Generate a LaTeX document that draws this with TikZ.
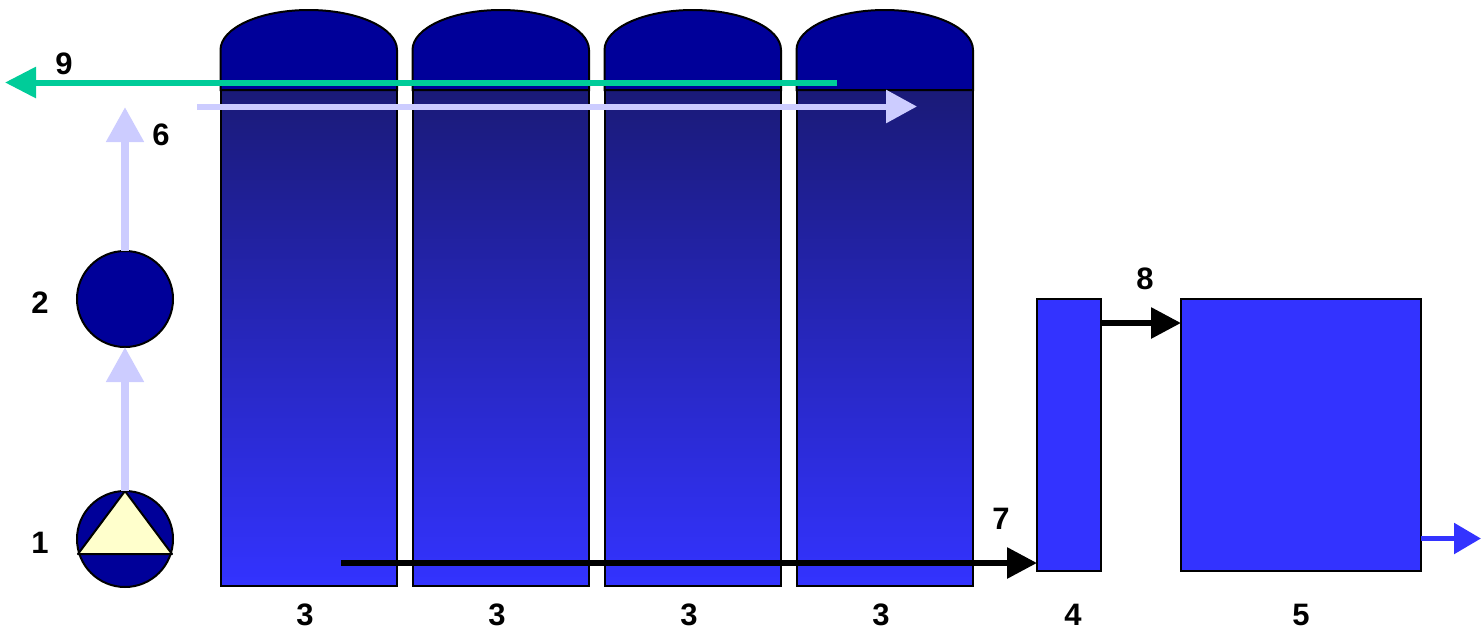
\documentclass[tikz,border=0pt]{standalone}
\usepackage{fontspec}
\setmainfont{Liberation Sans}
\usetikzlibrary{arrows.meta}
\definecolor{navy}{HTML}{000099}
\definecolor{tanktop}{HTML}{1A1A78}
\definecolor{vivid}{HTML}{3333FF}
\definecolor{pale}{HTML}{CCCCFF}
\definecolor{teal}{HTML}{00CC99}
\definecolor{cream}{HTML}{FFFFCC}
\tikzset{
  outline/.style={draw=black,line width=2pt},
  tankbody/.style={rectangle,inner sep=0pt,outer sep=0pt,minimum width=176.5pt,minimum height=496pt,anchor=north west,
    top color=tanktop,bottom color=vivid,middle color=tanktop!50!vivid},
  round1/.style={outline,circle,fill=navy,inner sep=0pt,outer sep=0pt,minimum size=96pt},
  boxy/.style={outline,rectangle,fill=vivid,inner sep=0pt,outer sep=0pt,anchor=north west},
  lab/.style={inner sep=0pt,font=\fontsize{31}{36}\selectfont\bfseries},
  flow/.style={line width=6pt,-{Triangle[length=31pt,width=31pt]}},
  paleflow/.style={line width=8pt,draw=pale,-{Triangle[length=35pt,width=36pt,fill=pale]}},
}
\newcommand{\tank}[2]{%
  \node[tankbody] (#2) at (#1,90) {};
  \draw[outline] (#2.north west) rectangle (#2.south east);
  \path[outline,fill=navy] (#2.north west) -- ++(0,-40) arc[start angle=180,end angle=0,x radius=88.25,y radius=-40] -- (#2.north east) -- cycle;
}
\begin{document}
\begin{tikzpicture}[x=1pt,y=-1pt]
\useasboundingbox (0,0) rectangle (1481,630);
\tank{220.5}{tankA}
\tank{412.5}{tankB}
\tank{604.5}{tankC}
\tank{796.5}{tankD}
\node[round1] (pump) at (125,539) {};
\node[round1] (filter) at (125,299) {};
\draw[outline,fill=cream,line join=round] (125,491) coordinate (apex) -- (172,554) -- (78,554) -- cycle;
\node[boxy,minimum width=64pt,minimum height=272pt] (boxF) at (1037,299) {};
\node[boxy,minimum width=240pt,minimum height=272pt] (boxG) at (1181,299) {};
\coordinate (startSeven) at (341,563);
\coordinate (startEight) at (1101,323);
\coordinate (startOut) at (1421,538.5);
\coordinate (endOut) at (1481,538.5);
\coordinate (endSix) at (125,107);
\coordinate (startH) at (197,106.5);
\coordinate (endH) at (917,106.5);
\coordinate (startN) at (837,82.5);
\coordinate (endN) at (5,82.5);
\draw[paleflow] (apex) -- (filter.south);
\draw[paleflow] (filter.north) -- (endSix);
\draw[flow,draw=pale,-{Triangle[length=31pt,width=32pt,fill=pale]}] (startH) -- (endH);
\draw[flow,draw=teal,-{Triangle[length=31pt,width=30pt,fill=teal]}] (startN) -- (endN);
\draw[flow,draw=black,-{Triangle[length=30pt,width=30pt,fill=black]}] (startSeven) -- (startSeven -| boxF.west);
\draw[flow,draw=black,-{Triangle[length=30pt,width=30pt,fill=black]}] (startEight) -- (startEight -| boxG.west);
\draw[flow,line width=5.5pt,draw=vivid,-{Triangle[length=27pt,width=30pt,fill=vivid]}] (startOut) -- (endOut);
\node[lab] (l9) at (64,63.5) {9};
\node[lab] (l6) at (161,134.5) {6};
\node[lab] (l2) at (40,303) {2};
\node[lab] (l1) at (40,543) {1};
\node[lab] (l3a) at (305,614.5) {3};
\node[lab] (l3b) at (497,614.5) {3};
\node[lab] (l3c) at (689,614.5) {3};
\node[lab] (l3d) at (881,614.5) {3};
\node[lab] (l4) at (1073,614.5) {4};
\node[lab] (l5) at (1301,614.5) {5};
\node[lab] (l7) at (1001,518.5) {7};
\node[lab] (l8) at (1145,279) {8};
\end{tikzpicture}
\end{document}
